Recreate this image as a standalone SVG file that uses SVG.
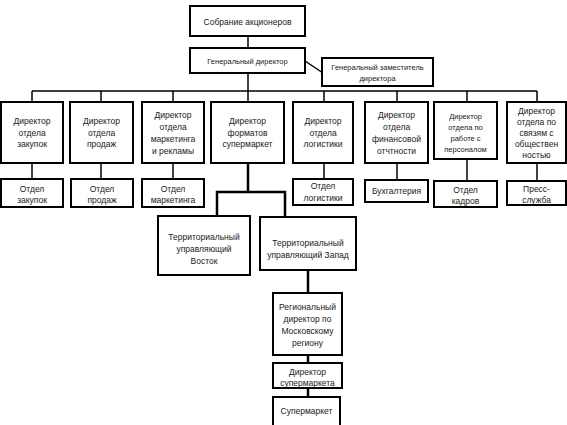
<svg xmlns="http://www.w3.org/2000/svg" width="567" height="425" viewBox="0 0 567 425">
<style>
rect{fill:#fff;stroke:#000;stroke-width:2}
text{font-family:"Liberation Sans",Arial,sans-serif;font-size:8.5px;fill:#1a1a1a;text-anchor:middle}
.s{font-size:7.5px}
.c line,.c polyline{stroke:#000;stroke-width:1.5;fill:none}
.c .t{stroke-width:2.5}
</style>
<rect x="0" y="0" width="567" height="425" style="stroke:none"/>
<g class="c" id="connectors">
<line x1="248" y1="36" x2="248" y2="48"/>
<line x1="248" y1="73" x2="248" y2="91"/>
<line x1="305" y1="61" x2="323" y2="73"/>
<line x1="32" y1="91" x2="537" y2="91"/>
<line x1="32" y1="91" x2="32" y2="102"/>
<line x1="101" y1="91" x2="101" y2="102"/>
<line x1="173" y1="91" x2="173" y2="102"/>
<line x1="248" y1="91" x2="248" y2="102"/>
<line x1="324" y1="91" x2="324" y2="102"/>
<line x1="397" y1="91" x2="397" y2="102"/>
<line x1="467" y1="91" x2="467" y2="102"/>
<line x1="537" y1="91" x2="537" y2="102"/>
<line x1="32" y1="163" x2="32" y2="179"/>
<line x1="101" y1="163" x2="101" y2="179"/>
<line x1="173" y1="163" x2="173" y2="179"/>
<line x1="324" y1="163" x2="324" y2="179"/>
<line x1="397" y1="163" x2="397" y2="180"/>
<line x1="467" y1="159" x2="467" y2="181"/>
<line x1="537" y1="163" x2="537" y2="181"/>
<line class="t" x1="248" y1="163" x2="248" y2="192"/>
<polyline class="t" points="217,216 217,192 285,192 285,217"/>
<line class="t" x1="308" y1="270" x2="308" y2="293"/>
<line class="t" x1="308" y1="355" x2="308" y2="363"/>
<line class="t" x1="308" y1="388" x2="308" y2="397"/>
</g>
<g id="n_sobranie"><rect x="190" y="6" width="115" height="30"/><text x="247.5" y="25">Собрание акционеров</text></g>
<g id="n_gd"><rect x="190" y="48" width="115" height="25"/><text class="s" x="247.5" y="64">Генеральный директор</text></g>
<g id="n_zam"><rect x="322" y="58" width="111" height="28"/><text class="s" x="377.5" y="70">Генеральный заместитель</text><text class="s" x="377.5" y="81">директора</text></g>

<g id="n_d1"><rect x="1" y="102" width="62" height="61"/><text x="32" y="124">Директор</text><text x="32" y="135.5">отдела</text><text x="32" y="147">закупок</text></g>
<g id="n_d2"><rect x="70" y="102" width="63" height="61"/><text x="101.5" y="124">Директор</text><text x="101.5" y="135.5">отдела</text><text x="101.5" y="147">продаж</text></g>
<g id="n_d3"><rect x="142" y="102" width="62" height="61"/><text x="173" y="118">Директор</text><text x="173" y="130">отдела</text><text x="173" y="142">маркетинга</text><text x="173" y="154">и рекламы</text></g>
<g id="n_d4"><rect x="211" y="102" width="73" height="61"/><text x="247.5" y="124">Директор</text><text x="247.5" y="135.5">форматов</text><text x="247.5" y="147">супермаркет</text></g>
<g id="n_d5"><rect x="293" y="102" width="60" height="61"/><text x="323" y="124">Директор</text><text x="323" y="135.5">отдела</text><text x="323" y="147">логистики</text></g>
<g id="n_d6"><rect x="365" y="102" width="63" height="61"/><text x="396.5" y="118">Директор</text><text x="396.5" y="130">отдела</text><text x="396.5" y="142">финансовой</text><text x="396.5" y="154">отчтности</text></g>
<g id="n_d7"><rect x="434" y="102" width="63" height="57"/><text class="s" x="465.5" y="119">Директор</text><text class="s" x="465.5" y="130">отдела по</text><text class="s" x="465.5" y="141">работе с</text><text class="s" x="465.5" y="152">персоналом</text></g>
<g id="n_d8"><rect x="507" y="102" width="59" height="61"/><text x="536.5" y="114">Директор</text><text x="536.5" y="125">отдела по</text><text x="536.5" y="136">связям с</text><text x="536.5" y="147">обществен</text><text x="536.5" y="158">ностью</text></g>

<g id="n_o1"><rect x="1" y="179" width="62" height="28"/><text x="32" y="192">Отдел</text><text x="32" y="203">закупок</text></g>
<g id="n_o2"><rect x="71" y="179" width="62" height="28"/><text x="102" y="192">Отдел</text><text x="102" y="203">продаж</text></g>
<g id="n_o3"><rect x="142" y="179" width="62" height="28"/><text x="173" y="192">Отдел</text><text x="173" y="203">маркетинга</text></g>
<g id="n_o5"><rect x="293" y="179" width="60" height="26"/><text x="323" y="189">Отдел</text><text x="323" y="201">логистики</text></g>
<g id="n_o6"><rect x="365" y="180" width="63" height="22"/><text x="396.5" y="194">Бухгалтерия</text></g>
<g id="n_o7"><rect x="434" y="181" width="63" height="26"/><text x="465.5" y="193">Отдел</text><text x="465.5" y="204">кадров</text></g>
<g id="n_o8"><rect x="507" y="181" width="59" height="24"/><text x="536.5" y="192">Пресс-</text><text x="536.5" y="202.5">служба</text></g>

<g id="n_vostok"><rect x="158" y="216" width="92" height="59"/><text x="204" y="240">Территориальный</text><text x="204" y="252">управляющий</text><text x="204" y="264">Восток</text></g>
<g id="n_zapad"><rect x="260" y="217" width="96" height="53"/><text x="308" y="246">Территориальный</text><text x="308" y="258">управляющий Запад</text></g>
<g id="n_reg"><rect x="273" y="293" width="69" height="62"/><text x="307.5" y="310">Региональный</text><text x="307.5" y="322">директор по</text><text x="307.5" y="334">Московскому</text><text x="307.5" y="346">региону</text></g>
<g id="n_dsm"><rect x="273" y="363" width="69" height="25"/><text x="307.5" y="375">Директор</text><text x="307.5" y="386">супермаркета</text></g>
<g id="n_sm"><rect x="273" y="397" width="67" height="29"/><text x="306.5" y="414">Супермаркет</text></g>
</svg>
